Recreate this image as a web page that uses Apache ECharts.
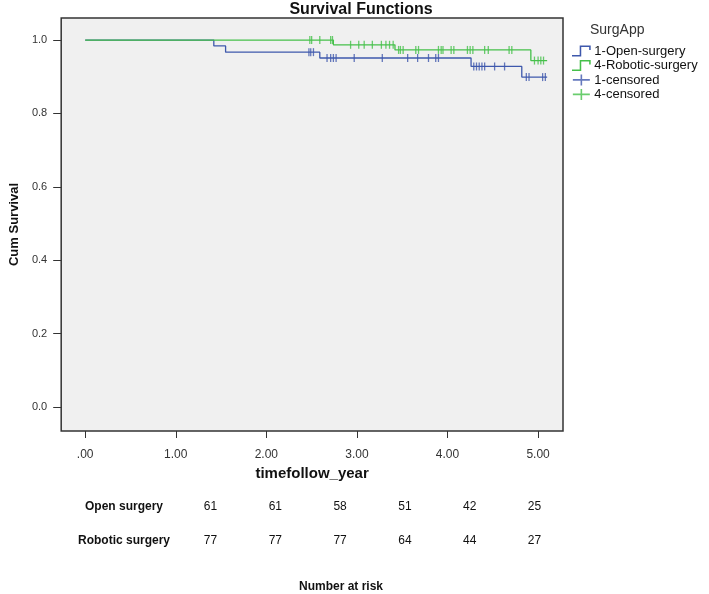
<!DOCTYPE html>
<html><head><meta charset="utf-8">
<script src="https://cdn.jsdelivr.net/npm/echarts@6/dist/echarts.min.js"></script>
<style>html,body{margin:0;padding:0;background:#fff}#c{width:709px;height:594px}</style>
</head><body><div id="c"></div>
<script>
// ---- data ----
const xTicks = [0, 1, 2, 3, 4, 5];
const yTicks = [0, 0.2, 0.4, 0.6, 0.8, 1.0];
const openSteps = [[0,1],[1.42,0.984],[1.55,0.967],[2.59,0.951],[4.26,0.928],[4.82,0.899],[5.10,0.899]];
const roboticSteps = [[0,1],[2.74,0.987],[3.42,0.973],[4.92,0.944],[5.10,0.944]];
const openCensored = [
  [2.47,0.967],[2.49,0.967],[2.52,0.967],
  [2.67,0.951],[2.71,0.951],[2.74,0.951],[2.77,0.951],[2.97,0.951],[3.28,0.951],[3.56,0.951],[3.67,0.951],[3.79,0.951],[3.87,0.951],[3.90,0.951],
  [4.29,0.928],[4.32,0.928],[4.35,0.928],[4.38,0.928],[4.41,0.928],[4.52,0.928],[4.63,0.928],
  [4.87,0.899],[4.90,0.899],[5.05,0.899],[5.08,0.899]
];
const roboticCensored = [
  [2.48,1],[2.50,1],[2.59,1],[2.71,1],[2.73,1],
  [2.93,0.987],[3.02,0.987],[3.08,0.987],[3.17,0.987],[3.27,0.987],[3.32,0.987],[3.36,0.987],[3.40,0.987],
  [3.46,0.973],[3.48,0.973],[3.51,0.973],[3.65,0.973],[3.68,0.973],[3.90,0.973],[3.93,0.973],[3.95,0.973],[4.04,0.973],[4.07,0.973],
  [4.22,0.973],[4.25,0.973],[4.28,0.973],[4.41,0.973],[4.45,0.973],[4.68,0.973],[4.71,0.973],
  [4.96,0.944],[5.00,0.944],[5.03,0.944],[5.06,0.944]
];
const seriesNames = ['1-Open-surgery','4-Robotic-surgery','1-censored','4-censored'];
const riskGroups = ['Open surgery','Robotic surgery'];
const riskOpen = [61,61,58,51,42,25];
const riskRobotic = [77,77,77,64,44,27];

// ---- style ----
const BLUE = '#3E58AC', GREEN = '#45C04A';
const FONT = '"Liberation Sans", Arial, sans-serif';
const chart = echarts.init(document.getElementById('c'), null, {renderer:'canvas'});

const stepIcon = 'path://M0,8.6 L7,8.6 L7,0 L17,0 L17,4 L15.6,4 L15.6,1.4 L8.4,1.4 L8.4,10 L0,10 Z';
const censIcon = 'path://M0,4.6 L17,4.6 L17,6.2 L0,6.2 Z M7.7,0 L9.3,0 L9.3,11 L7.7,11 Z';

const riskX0 = 210.5, riskDX = 64.8;
const graphics = [];
riskGroups.forEach((g, r) => {
  const y = r === 0 ? 507 : 541;
  graphics.push({type:'text', x: 124, y: y,
    style:{text:g, font:'bold 12px '+FONT, fill:'#111', textAlign:'center', textVerticalAlign:'middle'}});
  const arr = r === 0 ? riskOpen : riskRobotic;
  arr.forEach((v, i) => graphics.push({type:'text', x: riskX0 + riskDX*i, y: y,
    style:{text:String(v), font:'12px '+FONT, fill:'#111', textAlign:'center', textVerticalAlign:'middle'}}));
});
graphics.push({type:'text', x: 341, y: 587,
  style:{text:'Number at risk', font:'bold 12px '+FONT, fill:'#111', textAlign:'center', textVerticalAlign:'middle'}});

chart.setOption({
  animation: false,
  backgroundColor: '#fff',
  title: {text:'Survival Functions', left: 356, top: -3, textAlign:'center',
    textStyle:{fontFamily:FONT, fontSize:16, fontWeight:'bold', color:'#111'}},
  legend: {
    orient:'vertical', left: 567, top: 39, itemGap: 0.5, itemWidth: 24, itemHeight: 11,
    data: [
      {name:seriesNames[0], icon: stepIcon},
      {name:seriesNames[1], icon: stepIcon},
      {name:seriesNames[2], icon: censIcon},
      {name:seriesNames[3], icon: censIcon}
    ],
    textStyle:{fontFamily:FONT, fontSize:13, lineHeight:14, color:'#111', padding:[0,0,0,-4]}
  },
  graphic: [{type:'text', x: 590, y: 30, style:{text:'SurgApp', font:'14px '+FONT, fill:'#333', textVerticalAlign:'middle'}}].concat(graphics),
  grid: {left:58, right:146, top:18, bottom:163, show:true, backgroundColor:'#f0f0f0', borderColor:'#333', borderWidth:1.5},
  xAxis: {
    type:'value', min:-0.265, max:5.275,
    name:'timefollow_year', nameLocation:'middle', nameGap:34,
    nameTextStyle:{fontFamily:FONT, fontSize:15, fontWeight:'bold', color:'#111'},
    axisLine:{show:false, onZero:false}, splitLine:{show:false},
    axisTick:{show:true, customValues:xTicks, length:7, lineStyle:{color:'#333'}},
    axisLabel:{customValues:xTicks, margin:18, fontFamily:FONT, fontSize:12, color:'#333',
      formatter: v => v === 0 ? '.00' : v.toFixed(2)}
  },
  yAxis: {
    type:'value', min:-0.065, max:1.06,
    name:'Cum Survival', nameLocation:'middle', nameGap:38,
    nameTextStyle:{fontFamily:FONT, fontSize:13, fontWeight:'bold', color:'#111'},
    axisLine:{show:false, onZero:false}, splitLine:{show:false},
    axisTick:{show:true, customValues:yTicks, length:8, lineStyle:{color:'#333'}},
    axisLabel:{customValues:yTicks, margin:14, fontFamily:FONT, fontSize:11, color:'#333',
      formatter: v => v.toFixed(1)}
  },
  series: [
    {name:seriesNames[0], type:'line', step:'end', data:openSteps, showSymbol:false, color:BLUE,
      lineStyle:{width:1.3, color:BLUE}, z:2},
    {name:seriesNames[1], type:'line', step:'end', data:roboticSteps, showSymbol:false, color:GREEN,
      lineStyle:{width:1.3, color:GREEN}, z:3},
    {name:seriesNames[2], type:'scatter', data:openCensored, symbol:'rect', symbolSize:[1.3,8], color:BLUE,
      itemStyle:{color:BLUE}, z:4},
    {name:seriesNames[3], type:'scatter', data:roboticCensored, symbol:'rect', symbolSize:[1.3,8], color:GREEN,
      itemStyle:{color:GREEN}, z:5}
  ]
});
</script>
</body></html>
